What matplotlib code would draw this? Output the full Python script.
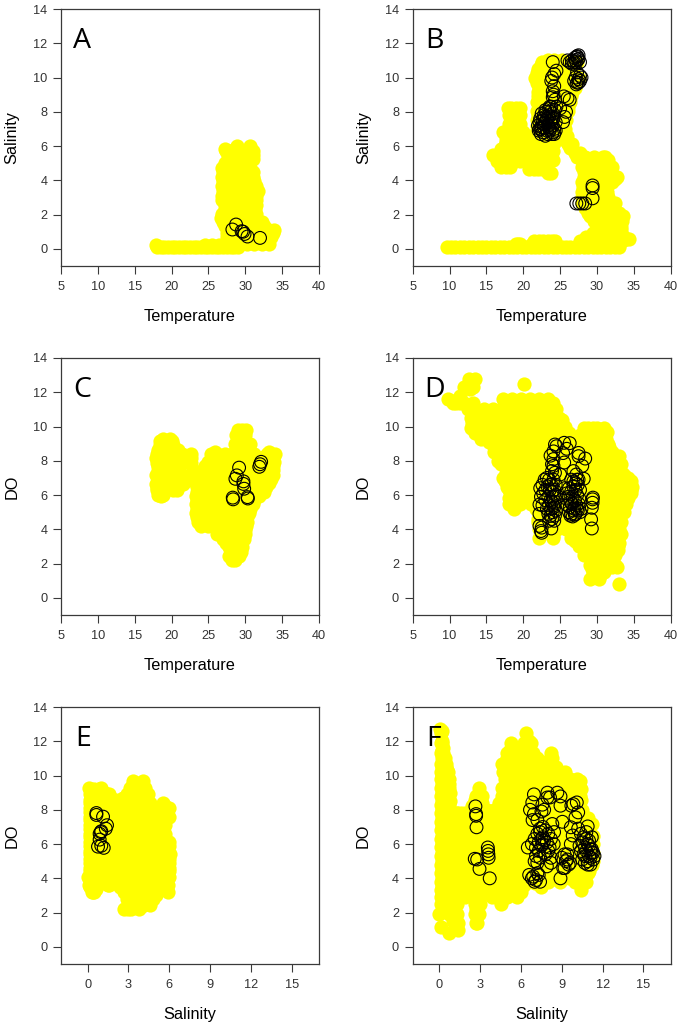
#!/usr/bin/env python3
from __future__ import annotations

import matplotlib
matplotlib.use("Agg")
import matplotlib.pyplot as plt

plt.rcParams["font.family"] = ["Liberation Sans", "DejaVu Sans"]

FIG_W, FIG_H = 681, 1028
YELLOW = "#ffff00"
DARK = "#3a3a3a"

TEMP_TICKS = [5, 10, 15, 20, 25, 30, 35, 40]
SAL_TICKS = [0, 3, 6, 9, 12, 15]
Y_TICKS = [0, 2, 4, 6, 8, 10, 12, 14]

# yellow points read row by row: (y, [x, ...])
A_ROWS = [
    (0.12, [18, 18.5, 19, 19.5, 20, 20.5, 21, 21.5, 22, 22.5, 23, 23.5, 24, 24.5, 25, 25.5, 26, 26.5, 27, 27.5, 28, 28.5, 29]),
    (0.2, [17.9, 24.5, 25.5, 26.5, 27.5]),
    (0.3, [27.2, 28.2, 29.2, 30.2, 31.2, 32.2, 33.2]),
    (0.5, [28, 29, 30, 31, 32, 33]),
    (0.7, [27.5, 28.5, 29.5, 30.5, 31.5, 32.5, 33.5]),
    (0.9, [27.5, 28.7, 29.9, 31, 32, 33, 33.8]),
    (1.1, [27.8, 28.9, 30, 31.1, 32.2, 33.2, 33.9]),
    (1.35, [27.3, 28.5, 29.7, 30.9, 32, 32.6]),
    (1.55, [27, 28, 29, 30, 31, 32.2]),
    (1.8, [26.7, 28.2, 29.4, 30.6, 31.3]),
    (2.05, [26.9, 27.9, 28.9, 29.9, 30.9, 31.5]),
    (2.3, [27.2, 28.4, 29.6, 30.8, 31.3]),
    (2.55, [27.2, 28, 29, 30, 31, 31.5]),
    (2.85, [26.9, 28.1, 29.3, 30.5, 31.4]),
    (3.1, [26.8, 27.8, 28.8, 29.8, 30.8, 31.4]),
    (3.4, [27, 28.2, 29.4, 30.6, 31.7]),
    (3.65, [26.9, 27.8, 28.8, 29.8, 30.8, 31.5]),
    (3.95, [27, 28.2, 29.4, 30.6, 31.2]),
    (4.2, [26.8, 27.8, 28.8, 29.8, 30.8, 31]),
    (4.5, [27, 28.2, 29.4, 30.4, 31]),
    (4.7, [26.9, 27.9, 28.9, 29.9, 30.7]),
    (5, [27.2, 28.4, 29.6, 30.4]),
    (5.25, [27.7, 28.8, 29.8, 30.7, 31]),
    (5.5, [27.6, 28.8, 30, 31]),
    (5.7, [27.4, 27.9, 28.4, 28.9, 30.4, 31]),
    (5.8, [27.2, 28.6, 30.7]),
    (6.0, [28.9, 30.6]),
]
B_ROWS = [
    (0.1, [9.6, 10.2, 10.8, 11.4, 12, 12.6, 13.2, 13.8, 14.4, 15, 15.6, 16.2, 16.8, 17.4, 18, 18.6, 19.2, 19.8, 20.4, 21, 21.6,
           22.2, 22.8, 23.4, 24, 24.6, 25.2, 25.8, 26.4, 27, 27.6, 28.2, 28.8, 29.4, 30, 30.6, 31.2, 31.8, 32.4, 33]),
    (0.3, [19.3, 19, 19.6, 21.2]),
    (0.45, [21.5, 22.1, 22.7, 23.3, 23.9, 24.3, 27.7, 28, 28.6, 29.2, 29.8, 30.4, 31, 31.6, 32.2, 32.8, 33.4]),
    (0.6, [34.4, 34]),
    (0.7, [28.5, 29.3, 30.1, 31, 32, 33, 33.7]),
    (0.9, [29.5, 30.7, 31.9, 33]),
    (1.1, [29.9, 30.8, 31.9, 32.9, 33.2]),
    (1.3, [30.3, 31.3, 32.5, 33.2]),
    (1.6, [29.6, 30.7, 31.8, 32.9, 33.4]),
    (1.9, [29, 30.2, 31.4, 32.6, 33.5]),
    (2.1, [28.8, 29.8, 30.9, 32, 33]),
    (2.4, [28.4, 29.6, 30.8, 32]),
    (2.7, [28, 29.2, 30.4, 31.6, 32.5]),
    (3, [28, 28.7, 29.7, 30.7, 31.5]),
    (3.3, [28, 29.2, 30.4, 31.3]),
    (3.6, [28.1, 28.7, 29.8, 30.9, 31.3]),
    (3.9, [28, 29.2, 30.4, 31.5, 32]),
    (4.1, [32.5]),
    (4.2, [28.2, 29.2, 30.2, 31.2, 32, 32.7]),
    (4.5, [28.2, 29.4, 30.6, 31.8]),
    (4.75, [28, 28.9, 30, 31, 32]),
    (5, [28.2, 29.4, 30.6, 31.4]),
    (5.2, [28, 28.9, 30, 31, 31.5]),
    (5.35, [27.3, 28.4, 29.6, 30.8, 31.1]),
    (5.6, [27.7, 27]),
    (5.9, [26.4]),
    (6.1, [26, 26.6]),
    (6.3, [25.8]),
    (6.6, [22, 23.2, 24.4, 25.2, 25.5, 25.9]),
    (6.9, [21.8, 22.6, 23.7, 24.8, 25.4]),
    (7, [25.7]),
    (7.2, [21.9, 23.1, 24.3, 25.5]),
    (7.5, [21.9, 22.8, 24, 25.2, 25.8]),
    (7.8, [22, 23.2, 24.4, 25.6]),
    (8.05, [21.9, 22.8, 24, 25.2, 26]),
    (8.3, [22.2, 23.4, 24.6, 25.8, 26.1]),
    (8.6, [21.9, 22.8, 24, 25.2, 26.3]),
    (8.9, [22, 23.2, 24.4, 25.6, 26.5]),
    (9.15, [22, 22.8, 24, 25.2, 26.6]),
    (9.4, [22.2, 23.4, 24.6, 25.8, 27]),
    (9.7, [21.8, 22.8, 24, 25.2, 26.4]),
    (10, [21.6, 22.8, 24, 25.2, 26.4, 27.5]),
    (10.25, [21.9, 23, 24.2, 25.4, 26.6]),
    (10.5, [22, 23.2, 24.4, 25.6, 26.8]),
    (10.75, [22.4, 23.3, 24.5, 25.7]),
    (10.9, [22.5, 23.7, 24.9, 26.1, 27.3]),
    (11, [23.4, 24.2, 25.2]),
    (4.65, [20.8, 22, 23.2, 21.4, 22.6]),
    (4.45, [23.4, 23.8]),
    (5.2, [20.9, 22.1, 23.3, 24.1, 21.5, 22.7]),
    (5.7, [20.5, 21.7, 22.9, 24, 21.1, 22.3, 23.5]),
    (6.2, [20.5, 21.7, 22.9, 24.2, 21.1, 22.3, 23.5]),
    (4.8, [17, 17.6, 18.2]),
    (5.1, [16.4, 17.2, 18, 18.9, 19.6, 20.3]),
    (5.5, [15.9, 16.5, 17.1, 17.7, 18.3, 18.9, 19.5, 20.2]),
    (5.8, [17, 17.8, 18.6, 19.4, 20]),
    (6.05, [17.5, 18.1, 18.7, 19.3, 19.9]),
    (6.35, [17.6, 18.3, 19.1, 19.9, 20.6]),
    (6.6, [17.7, 18.9, 20, 18.3, 19.4, 21]),
    (6.85, [17.2, 17.9, 18.7, 19.5, 20]),
    (7.3, [18, 19, 19.6, 18.5]),
    (7.8, [18, 18.9, 19.6, 18.4]),
    (8.2, [17.9, 19, 19.6, 18.4]),
]
C_ROWS = [
    (5.95, [18.5]),
    (6.0, [18.1, 18.9]),
    (6.3, [18, 19, 20.2, 20.8]),
    (6.4, [18, 19.2, 20]),
    (6.65, [17.9, 18.8, 19.8, 20.8, 21.6]),
    (6.9, [18.2, 19.4, 20.4, 21.3, 22.3, 23.4]),
    (7.15, [17.95, 18.8, 20, 21, 22.4, 23.6]),
    (7.4, [18.2, 19.4, 20.5, 23]),
    (7.65, [18.1, 19, 20, 21]),
    (7.9, [18, 19.2, 20.4, 21.4, 22.6]),
    (8.15, [17.9, 18.6, 19.8, 21, 22, 22.7]),
    (8.4, [18, 19.2, 20.4, 21.4, 22.6]),
    (8.65, [18.2, 19, 20, 20.9]),
    (8.9, [18.4, 19.6, 20.2]),
    (9.15, [18.4, 19.2, 20.1]),
    (9.3, [18.9, 19.8]),
    (2.2, [28.2, 28.6]),
    (2.45, [27.8, 28.7, 29.2]),
    (2.7, [28, 29.4]),
    (2.95, [27.8, 28.9, 29.6]),
    (3.2, [27.4, 28.6, 29.4]),
    (3.45, [27, 28, 29, 29.8]),
    (3.7, [26.1, 26.8, 28, 29.2, 29.9]),
    (3.95, [26.2, 27.2, 28.2, 29.3, 30]),
    (4.2, [24, 25, 26.2, 27.4, 28.6, 29.8, 30.1]),
    (4.45, [23.6, 24.5, 25.5, 26.6, 27.7, 28.8, 29.9, 30.2]),
    (4.7, [23.4, 24.6, 25.8, 27, 28.2, 29.4, 30.3]),
    (4.95, [23.3, 24, 25, 26.4, 27.6, 28.8, 30, 30.5]),
    (5.2, [23.4, 24.6, 25.8, 27, 28.2, 29.4, 30.6]),
    (5.45, [23.3, 24, 25.2, 26.4, 27.6, 28.8, 30, 31]),
    (5.7, [23.4, 24.6, 25.8, 27, 28.2, 29.4, 30.6, 31.2]),
    (5.95, [23.3, 24, 25.2, 26.4, 27.6, 28.8, 30, 31.2, 31.8]),
    (6.2, [23.4, 24.6, 25.8, 27, 28.2, 29.4, 30.6, 31.8, 32.5]),
    (6.45, [23.5, 24.2, 25.2, 26.4, 27.6, 28.8, 30, 31.2, 32.4, 32.8]),
    (6.7, [23.5, 24.7, 25.9, 27.1, 28.3, 29.5, 30.7, 31.9, 33.2]),
    (6.95, [23.7, 24.5, 25.5, 26.7, 27.9, 29.1, 30.3, 31.5, 32.7, 33.5]),
    (7.2, [24, 25.2, 26.4, 27.6, 28.8, 30, 31.2, 32.4, 33.7]),
    (7.45, [24.2, 25, 26, 27.2, 28.4, 29.6, 30.8, 32, 33.2, 33.8]),
    (7.7, [24.5, 25.7, 26.9, 28.1, 29.3, 30.5, 31.7, 32.9, 33.7]),
    (7.95, [25, 26.2, 27.4, 28.6, 29.8, 31, 32.2, 33.4, 33.9]),
    (8.2, [25.6, 26.8, 28, 29.2, 30.4, 31.4, 32.6, 33.8]),
    (8.4, [25.4, 26.2, 27.2, 28.2, 29.4, 30.6, 31.2, 33, 33.5, 34]),
    (8.5, [25.9, 33.2]),
    (9, [28.6, 29.8, 30.6]),
    (9.5, [28.8, 30]),
    (9.8, [29, 29.6, 30.1]),
]
D_ROWS = [
    (12.8, [12.6, 13.5]),
    (12.5, [20.1]),
    (12.3, [12, 13.2]),
    (11.6, [9.8, 17.3, 18.5, 19.7, 20.9, 22.1, 23.3]),
    (11.4, [10.9, 12, 13.2, 10.4, 11.4, 18, 19, 24]),
    (11, [12.5, 13.5, 14.7, 15.9, 17.1, 18.3, 19.5, 20.7, 21.9, 23.1, 24.1]),
    (10.5, [12.9, 14.1, 15.3, 16.5, 17.7, 18.9, 20.1, 21.3, 22.5, 23.7, 24.9]),
    (9.9, [12.9, 14.1, 15.3, 16.5, 17.7, 18.9, 20.1, 21.3, 22.5, 23.7, 24.9, 25.5, 28.8, 30, 31]),
    (9.3, [14.2, 15.6, 16.8, 18, 19.2, 20.4, 21.6, 22.8, 24, 25.2, 26.4, 27.6, 28.8, 30, 31.2]),
    (8.8, [16, 17.2, 18.4, 19.6, 20.8, 22, 23.2, 24.4, 25.6, 26.8, 28, 29.2, 30.4, 31.6]),
    (8.3, [16.8, 18, 19.2, 20.4, 21.6, 22.8, 24, 25.2, 26.4, 27.6, 28.8, 30, 31.2, 32, 33]),
    (7.8, [17, 18.2, 19.4, 20.6, 21.8, 23, 24.2, 25.4, 26.6, 27.8, 29, 30.2, 31.4, 32.6, 33]),
    (7.3, [17.6, 18.8, 20, 21.2, 22.4, 23.6, 24.8, 26, 27.2, 28.4, 29.6, 30.8, 32, 33.4]),
    (6.8, [17.5, 18.7, 19.9, 21.1, 22.3, 23.5, 24.7, 25.9, 27.1, 28.3, 29.5, 30.7, 31.9, 33.1, 34.6]),
    (6.3, [18, 19.2, 20.4, 21.6, 22.8, 24, 25.2, 26.4, 27.6, 28.8, 30, 31.2, 32.4, 33.6, 34.6]),
    (5.8, [18, 19.2, 20.4, 21.6, 22.8, 24, 25.2, 26.4, 27.6, 28.8, 30, 31.2, 32.4, 33.6, 34.2]),
    (5.2, [18.7, 21.7, 22.9, 24.1, 25.3, 26.5, 27.7, 28.9, 30.1, 31.3, 32.5, 33.4]),
    (4.6, [22, 23.2, 24.4, 25.6, 26.8, 28, 29.2, 30.4, 31.6, 32.8]),
    (4, [22.2, 23.4, 24.6, 25.8, 27, 28.2, 29.4, 30.6, 31.8, 33]),
    (3.5, [22.2, 24.1, 26.5, 27.7, 28.9, 30.1, 31.3, 32.5, 32.8]),
    (3, [27.5, 28.7, 29.9, 31.1, 32.3, 32.8]),
    (2.5, [28.2, 29.4, 30.6, 31.8, 32.5]),
    (1.9, [29, 30.2, 31.3, 32.5]),
    (1.4, [29.5, 30.5]),
    (1.1, [29, 30.3]),
    (0.8, [33]),
]
E_ROWS = [
    (2.2, [2.7, 3.2, 3.8, 3]),
    (2.45, [4.6, 3.6, 4]),
    (2.8, [3.5, 4.4, 4.8, 2.9]),
    (3.2, [0.3, 0.5, 2.7, 3.3, 3.8, 4.3, 4.9, 5.9]),
    (3.6, [0.1, 0.6, 1.5, 2.8, 3.4, 4, 4.6, 5.2, 5.9]),
    (4.1, [0, 0.6, 1.2, 1.8, 2.4, 3, 3.6, 4.2, 4.8, 5.4, 6]),
    (4.6, [0.15, 0.75, 1.35, 1.95, 2.55, 3.15, 3.75, 4.35, 4.95, 5.55, 6]),
    (5.1, [0.15, 0.75, 1.35, 1.95, 2.55, 3.15, 3.75, 4.35, 4.95, 5.55, 6]),
    (5.6, [0.15, 0.75, 1.35, 1.95, 2.55, 3.15, 3.75, 4.35, 4.95, 5.55, 5.9]),
    (6.1, [0.15, 0.75, 1.35, 1.95, 2.55, 3.15, 3.75, 4.35, 4.95, 5.55, 6]),
    (6.6, [0.15, 0.75, 1.35, 1.95, 2.55, 3.15, 3.75, 4.35, 4.95, 5.55]),
    (7.1, [0.15, 0.75, 1.35, 1.95, 2.55, 3.15, 3.75, 4.35, 4.95, 5.5]),
    (7.6, [0.15, 0.75, 1.35, 1.95, 2.55, 3.15, 3.75, 4.35, 4.95, 5.5, 6]),
    (8.1, [0.15, 0.75, 1.35, 1.95, 2.55, 3.15, 3.75, 4.35, 4.6, 5.5, 6]),
    (8.6, [0.15, 0.75, 1.35, 1.95, 2.3, 2.9, 3.3, 3.9]),
    (9.25, [0.1, 1, 3.1, 3.7, 4.1]),
    (9.7, [3.3, 4.1]),
]
F_ROWS = [
    (0.8, [0.7]),
    (1, [1.4]),
    (1.15, [0.1]),
    (1.4, [1.4, 2.7, 2.8]),
    (1.9, [0, 0.7, 1.3, 2.6, 2.9]),
    (2.5, [0.1, 0.7, 1.3, 2.6, 3, 4.5]),
    (2.9, [0.1, 0.7, 1.3, 1.9, 2.5, 3, 3.9, 4.4, 5, 5.7]),
    (3.3, [0.1, 0.7, 1.3, 1.9, 2.5, 3.1, 3.7, 4.3, 4.9, 5.5, 10.4]),
    (3.8, [0.1, 0.7, 1.3, 1.9, 2.5, 3.1, 3.7, 4.3, 4.9, 5.5, 6.1, 6.4, 7.5, 8.9, 10, 10.8]),
    (4.3, [0.1, 0.7, 1.3, 1.9, 2.5, 3.1, 3.7, 4.3, 4.9, 5.5, 6.1, 6.7, 7.3, 7.9, 8.5, 9.1, 9.7, 10.3, 10.9]),
    (4.8, [0.1, 0.7, 1.3, 1.9, 2.5, 3.1, 3.7, 4.3, 4.9, 5.5, 6.1, 6.7, 7.3, 7.9, 8.5, 9.1, 9.7, 10.3, 10.9, 11.2]),
    (5.3, [0.1, 0.7, 1.3, 1.9, 2.5, 3.1, 3.7, 4.3, 4.9, 5.5, 6.1, 6.7, 7.3, 7.9, 8.5, 9.1, 9.7, 10.3, 10.9, 11.3]),
    (5.8, [0.1, 0.7, 1.3, 1.9, 2.5, 3.1, 3.7, 4.3, 4.9, 5.5, 6.1, 6.7, 7.3, 7.9, 8.5, 9.1, 9.7, 10.3, 10.9]),
    (6.3, [0.1, 0.7, 1.3, 1.9, 2.5, 3.1, 3.7, 4.3, 4.9, 5.5, 6.1, 6.7, 7.3, 7.9, 8.5, 9.1, 9.7, 10.3, 10.9]),
    (6.8, [0.1, 0.7, 1.3, 1.9, 2.5, 3.1, 3.7, 4.3, 4.9, 5.5, 6.1, 6.7, 7.3, 7.9, 8.5, 9.1, 9.7, 10.3, 10.9]),
    (7.3, [0.1, 0.7, 1.3, 1.9, 2.5, 3.1, 3.7, 4.3, 4.9, 5.5, 6.1, 6.7, 7.3, 7.9, 8.5, 9.1, 9.7, 10.3, 10.9]),
    (7.8, [0.1, 0.7, 1.3, 1.9, 2.5, 3.1, 3.7, 4.3, 4.9, 5.5, 6.1, 6.7, 7.3, 7.9, 8.5, 9.1, 9.7, 10.3]),
    (8.3, [0.1, 0.7, 2.5, 3, 4.7, 5.3, 5.9, 6.5, 7.1, 7.7, 8.3, 8.9, 9.5, 10.1]),
    (8.8, [0.1, 0.6, 2.7, 3.1, 4.6, 5.2, 5.8, 6.4, 7, 7.6, 8.2, 8.8, 9.4, 10, 10.3]),
    (9.3, [0.1, 0.7, 2.9, 4.6, 5.2, 5.8, 6.4, 7, 7.6, 8.2, 8.8, 9.4, 10, 10.3]),
    (9.8, [0.1, 0.7, 4.8, 5.4, 6, 6.6, 7.2, 7.8, 8.4, 9, 10.1]),
    (10.2, [0.1, 0.6, 4.7, 5.3, 5.9, 6.5, 7.1, 7.7, 8.3, 8.9]),
    (10.7, [0.1, 0.5, 4.6, 5.2, 5.8, 6.4, 7, 7.6, 8.2]),
    (11.3, [0.1, 0.3, 5, 5.7, 6.3, 6.9, 8.2]),
    (11.9, [0.1, 0.2, 5.3, 6.4, 6.7]),
    (12.5, [0.1, 6.4]),
]

# extra yellow points along the outline of each cloud
D_EDGE = [(10.4, 11.5), (13, 10.2), (13.2, 10), (13.5, 9.6), (14.8, 9.4), (15.4, 9.1), (16, 8.5), (16.6, 8), (17.2, 7),
          (17.8, 6.5), (18, 5.5), (18.4, 5.5), (19, 5.4), (19.6, 5.5), (21, 5.5), (24.5, 11), (25.2, 10.4), (25.6, 10),
          (26.2, 9.6), (26.7, 9.2), (27.7, 9.5), (28.2, 9.9), (29.4, 9.9), (30.4, 9.7), (31.3, 9.7), (31.5, 9), (32, 8.5),
          (32.6, 8.1), (33.3, 7.8), (33.7, 7.2), (34.2, 7), (34.7, 6.5), (34.6, 6.1), (34, 5.5), (33.6, 5), (33.2, 4.4),
          (33.2, 3.7), (33, 3.2), (32.8, 2.8), (32.2, 2.3), (32.7, 1.8), (32, 1.8), (31, 1.5), (30.7, 2), (29.3, 1.7),
          (27, 3.3), (26.5, 3.8), (25, 4.3), (22, 4.4), (22.6, 3.9), (23, 4.2), (24, 3.6), (11.4, 11.8), (12.8, 12.2)]
E_EDGE = [(0.15, 3.9), (0.15, 4.4), (0.15, 4.9), (0.15, 5.4), (0.15, 5.9), (0.15, 6.4), (0.15, 6.9), (0.15, 7.4), (0.15, 7.9),
          (0.15, 8.4), (0.15, 8.9), (0.15, 9.2), (6, 4.4), (6, 4.9), (6.05, 5.4), (5.95, 5.9), (5.7, 6.6), (5.7, 7.1), (5.6, 7.4),
          (5.6, 8.3), (5.5, 8.4), (5.8, 7.8), (0.5, 9.2), (0.8, 9.2), (1.3, 9), (1.6, 8.9), (2, 8.6), (2.6, 8.7), (2.9, 8.9),
          (3.3, 9.5), (4, 9.6), (4.2, 9.3), (4.4, 8.9), (4.6, 8.4), (0.2, 3.5), (0.4, 3.2), (0.6, 3.4), (1, 3.8), (1.3, 3.7),
          (1.6, 3.6), (2, 3.9), (2.4, 3.5), (3.2, 3), (3.6, 2.6), (4, 2.4), (4.3, 2.5), (4.6, 2.7), (5, 3), (5.5, 3.4), (5.8, 3.3),
          (1.1, 8.6), (1.7, 8.3), (2.2, 8.3)]
F_EDGE = [(0.2, 3), (0.2, 3.5), (0.2, 4), (0.2, 4.5), (0.2, 5), (0.2, 5.5), (0.2, 6), (0.2, 6.5), (0.2, 7), (0.2, 7.5), (0.2, 8),
          (0.2, 8.5), (0.2, 9), (0.2, 9.5), (0.2, 10), (0.2, 10.5), (0.2, 11), (0.2, 11.5), (0.2, 12), (0.2, 12.6), (0.05, 12.7),
          (0.3, 11.6), (0.4, 11), (0.5, 10.5), (0.55, 10.3), (0.7, 9.5), (0.8, 9), (0.8, 8.5), (1.3, 7.8), (1.6, 7.8), (2, 7.7),
          (2.4, 8.2), (2.6, 8.6), (3, 8.8), (3.1, 8.4), (3.5, 8), (4, 8), (4.4, 8.4), (4.8, 9), (4.8, 10.7), (10.9, 7.5), (11.2, 7.2),
          (11.3, 6.5), (11.3, 6), (11.3, 5.5), (11.3, 5), (11, 4.4), (10.7, 3.9), (10.4, 3.6), (10.1, 3.9), (9.5, 4), (8.7, 3.9),
          (8, 3.8), (7, 3.7), (7.5, 3.5), (6.2, 3.6), (6, 3.2), (5.7, 3), (5.2, 3), (4.7, 3), (4.5, 2.6), (5, 11), (5.2, 11.5),
          (5.6, 11.3), (6, 11.5), (6.2, 11.9), (6.6, 12), (7.2, 11), (7.6, 10.8), (8, 10.8), (8.3, 11), (8.6, 10.5), (9.2, 10.2),
          (9.6, 9.8), (9.9, 9.7), (10.3, 9.7), (10.4, 9.2), (10.4, 8.6), (10.5, 8), (0.4, 2.2), (0.4, 2.7), (1, 1.5), (1, 2.2),
          (1, 2.7), (2.75, 1.8), (2.7, 2.2), (2.7, 2.6)]

# black open circles
A_X = [28.75, 28.25, 29.5, 29.7, 29.9, 30.3, 32]
A_Y = [1.42, 1.13, 1.03, 1.0, 0.87, 0.72, 0.64]

B_X = [29.4, 29.4, 29.4, 28.4, 28, 27.6, 27.2, 24, 24.5, 24.2, 23.9, 23.8, 24.2, 24, 24.1, 24, 24.3, 25.5, 26, 26.3,
       24.5, 25, 25.8, 25.6, 25.4, 23, 23.6, 26, 26.3, 26.6, 26.9, 27.1, 27.3, 27.5, 26.6, 26.9, 27.2, 27.4, 27, 27.3,
       27.5, 27.7, 26.9, 27.1, 27.3, 27.5, 27.7, 27.9, 27.2, 27.5, 27.7, 27.3, 22, 22.2, 22.4, 22.6, 22.8, 23, 23.2, 23.4,
       23.6, 23.8, 24, 24.2, 22.1, 22.4, 22.7, 23, 23.3, 23.6, 23.9, 24.2, 22.3, 22.6, 22.9, 23.2, 23.5, 23.8, 24.1, 24.4,
       22.5, 22.8, 23.1, 23.4, 23.7, 24, 24.3, 22.2, 22.5, 22.8, 23.2, 23.6, 24, 24.4, 23.5, 23.8, 24.1]
B_Y = [3.7, 3.55, 2.95, 2.65, 2.65, 2.65, 2.65, 10.9, 10.4, 10.2, 10, 9.8, 9.5, 9.2, 9, 8.85, 8.7, 8.9, 8.8, 8.7,
       8.3, 8.2, 8, 7.7, 7.4, 8.1, 8.3, 11, 10.9, 11, 10.9, 11, 11.2, 11.3, 10.8, 10.8, 10.9, 11.05, 11.15, 11.25,
       11.1, 10.9, 9.8, 10, 9.7, 9.9, 10.1, 10, 9.6, 9.7, 9.8, 10.3, 7.2, 7.4, 7, 7.3, 7.1, 7.4, 6.9, 7.2,
       7, 7.3, 6.8, 7, 6.9, 6.7, 6.8, 6.6, 6.7, 6.9, 6.7, 6.7, 7.6, 7.5, 7.7, 7.5, 7.7, 7.5, 7.6, 7.4,
       7.9, 7.8, 8, 7.8, 8, 7.9, 8.1, 7, 7.1, 7.3, 7.6, 7.1, 7.2, 6.9, 8.2, 8.3, 7.7]

C_X = [29.16, 32.15, 32, 31.9, 28.85, 28.66, 29.75, 29.75, 29.85, 28.3, 28.35, 30.3, 30.35]
C_Y = [7.6, 7.94, 7.8, 7.65, 7.15, 6.95, 6.8, 6.65, 6.37, 5.85, 5.75, 5.88, 5.8]

D_X = [29.3, 29.2, 29.3, 29.4, 29.4, 29.45, 26.3, 25.55, 25.9, 25.4, 25.55, 27.5, 28.4, 27.5, 28, 26.8, 27.2, 28.2, 27.5,
       24.3, 24.5, 24.1, 23.7, 24.1, 23.9, 24.1, 23.9, 24.3, 25, 22.2, 22.5, 22.4, 22.5, 23.8, 22.2, 22.2,
       22.3, 22.6, 22.9, 23.2, 23.5, 23.8, 24.1, 24.4, 22.4, 22.7, 23, 23.3, 23.6, 23.9, 24.2, 24.5, 22.6, 23, 23.4, 23.7,
       24, 24.3, 24.7, 23.2, 23.5, 23.8, 24.1, 24.4, 23.4, 23.7, 24, 24.3, 23.5, 23.9, 24.2, 23.6, 23.9, 24.2,
       25.6, 25.9, 26.2, 26.5, 26.8, 27.1, 27.4, 27.7, 25.8, 26.1, 26.4, 26.7, 27, 27.3, 27.6, 26, 26.3, 26.6, 26.9, 27.2,
       27.5, 27.9, 26.2, 26.5, 26.8, 27.1, 27.4, 27.7, 26.4, 26.7, 27, 27.3, 26.5, 26.8, 27.1, 27.3]
D_Y = [4.05, 4.58, 5.26, 5.55, 5.75, 5.85, 9.03, 9.05, 8.7, 8.45, 7.9, 8.46, 8.13, 8.27, 7.7, 7.4, 7.2, 6.95, 6.9,
       8.95, 8.85, 8.55, 8.3, 8.1, 7.8, 7.7, 7.4, 7.3, 7.2, 4.2, 4.1, 3.9, 3.8, 4.05, 4.9, 5.45,
       6.4, 6.6, 6.9, 7, 6.9, 6.6, 6.9, 6.6, 5.9, 6.1, 6.3, 6.5, 6.3, 6.2, 6.3, 6, 5.4, 5.7, 5.9, 5.7,
       5.9, 5.6, 5.9, 5.2, 5.4, 5.2, 5.4, 5.1, 4.9, 4.8, 5, 4.8, 4.5, 4.6, 4.5, 6.6, 5.6, 5.3,
       6.4, 6.1, 6.4, 6.2, 6.5, 6.3, 6.6, 6.3, 5.8, 5.9, 5.6, 5.9, 5.7, 6, 5.8, 5.4, 5.3, 5.5, 5.2, 5.4,
       5.5, 5.2, 5, 4.9, 5.1, 4.9, 5.1, 5, 4.8, 4.75, 4.85, 5.2, 6.9, 6.8, 6.7, 6.9]

E_X = [0.64, 0.64, 1.13, 1.42, 1.33, 0.96, 0.88, 1, 0.88, 0.76, 1.18, 1]
E_Y = [7.81, 7.7, 7.6, 7.1, 6.9, 6.7, 6.6, 6.75, 6.26, 5.85, 5.78, 5.9]

F_X = [2.65, 2.7, 2.7, 2.73, 2.6, 2.78, 2.95, 3.7, 3.56, 3.58, 3.6, 3.62, 6.95, 6.83, 6.66, 6.95, 7.2, 6.85, 7.94, 8.13,
       7.94, 8.67, 8.9, 8.9, 9.04, 7.57, 7.7, 7.5, 8.3, 8.43, 9.7, 9.85, 10.1, 10.2, 10, 9.66, 9.8, 9.66, 10.9, 8.9,
       6.5, 6.8, 7, 7.2, 7.4, 7.6, 7.8, 8, 8.2, 8.4, 7.1, 7.3, 7.5, 7.7, 7.9, 8.1, 7, 7.2, 7.4, 7.6, 7.8, 8,
       8.2, 7.3, 7.5, 7.7, 7.1, 7.9, 8.2, 7.4, 7.6,
       10.2, 10.4, 10.6, 10.8, 11, 11.2, 10.3, 10.5, 10.7, 10.9, 11.1, 11.3, 10.4, 10.6, 10.8, 11, 11.2, 11.4, 10.5, 10.7,
       10.9, 11.1, 11.3, 10.7, 10.9, 11.1, 10.8, 11, 11.2,
       9, 9.2, 9.4, 9.5, 9.1, 9.3, 9.6, 9.2, 9.4, 6.6, 6.8, 7, 7.2, 7.4, 6.9, 7.1, 7.3]
F_Y = [8.2, 7.75, 7.65, 6.98, 5.14, 5.1, 4.55, 4, 5.8, 5.6, 5.4, 5.2, 8.9, 8.43, 8, 7.75, 7.4, 7.4, 9, 8.72,
       8.72, 9, 8.78, 8.24, 7.3, 8.3, 8, 7.9, 7.17, 6.7, 8.24, 8.33, 8.43, 7.85, 7.56, 6.98, 6.5, 6, 7.03, 4,
       5.8, 6, 6.3, 6.6, 6.9, 7, 6.8, 6.6, 6.3, 6, 5.8, 5.6, 5.9, 6.2, 6.1, 5.8, 5, 4.9, 5.2, 6.4, 5.4, 5.6,
       5.2, 6.1, 6.3, 5.5, 5.3, 4.7, 4.9, 6.7, 6,
       6.9, 6.6, 6.4, 6.7, 6.2, 6.4, 5.9, 6.1, 5.8, 6, 5.7, 5.5, 5.6, 5.4, 5.6, 5.3, 5.5, 5.3, 5.1, 5.3,
       5, 5.2, 5.1, 4.9, 4.8, 4.8, 6.3, 5.9, 5.7,
       5.2, 5.4, 5.1, 4.8, 4.6, 5, 4.9, 4.6, 5.4, 4.2, 4, 3.8, 4.3, 3.8, 4.1, 3.9, 4.2]


def expand(rows: list[tuple[float, list[float]]], edge: list[tuple[float, float]]) -> tuple[list[float], list[float]]:
    xs = [x for x, _ in edge]
    ys = [y for _, y in edge]
    for y, row in rows:
        for x in row:
            xs.append(x)
            ys.append(y)
    return xs, ys


def draw_panel(fig, left, top, letter, letter_dx, rows, edge, cx, cy, xlabel, ylabel, xlim, xticks):
    width, height = 258, 257
    ax = fig.add_axes([left / FIG_W, 1 - (top + height) / FIG_H, width / FIG_W, height / FIG_H])
    xs, ys = expand(rows, edge)
    ax.scatter(xs, ys, s=105, color=YELLOW, linewidths=0, zorder=2)
    ax.scatter(cx, cy, s=85, facecolors="none", edgecolors="black", linewidths=0.8, zorder=3)
    ax.set_xlim(*xlim)
    ax.set_ylim(-1, 14)
    ax.set_xticks(xticks)
    ax.set_yticks(Y_TICKS)
    ax.tick_params(axis="x", length=5.8, width=0.8, color=DARK, labelsize=9.2, labelcolor="#333333", pad=5)
    ax.tick_params(axis="y", length=5.8, width=0.8, color=DARK, labelsize=9.2, labelcolor="#333333", pad=4)
    for spine in ax.spines.values():
        spine.set_color(DARK)
        spine.set_linewidth(0.9)
    ax.set_xlabel(xlabel, fontsize=11.7)
    ax.set_ylabel(ylabel, fontsize=11.7)
    ax.xaxis.set_label_coords(0.5, -0.167)
    ax.yaxis.set_label_coords(-0.162, 0.5)
    ax.text(letter_dx / width, 0.85, letter, transform=ax.transAxes, fontsize=20.5,
            family=["Open Sans", "DejaVu Sans"], color="black", zorder=4)
    return ax


def main() -> None:
    fig = plt.figure(figsize=(FIG_W / 100, FIG_H / 100), dpi=100)
    temp_lim = (5, 40)
    sal_lim = (-1.96, 17)
    draw_panel(fig, 61, 9, "A", 12, A_ROWS, [], A_X, A_Y, "Temperature", "Salinity", temp_lim, TEMP_TICKS)
    draw_panel(fig, 412.7, 9, "B", 13, B_ROWS, [], B_X, B_Y, "Temperature", "Salinity", temp_lim, TEMP_TICKS)
    draw_panel(fig, 61, 358, "C", 12, C_ROWS, [], C_X, C_Y, "Temperature", "DO", temp_lim, TEMP_TICKS)
    draw_panel(fig, 412.7, 358, "D", 12, D_ROWS, D_EDGE, D_X, D_Y, "Temperature", "DO", temp_lim, TEMP_TICKS)
    draw_panel(fig, 61, 707, "E", 14, E_ROWS, E_EDGE, E_X, E_Y, "Salinity", "DO", sal_lim, SAL_TICKS)
    draw_panel(fig, 412.7, 707, "F", 14, F_ROWS, F_EDGE, F_X, F_Y, "Salinity", "DO", sal_lim, SAL_TICKS)
    fig.savefig("out.png", dpi=100)
    plt.close(fig)


if __name__ == "__main__":
    main()
